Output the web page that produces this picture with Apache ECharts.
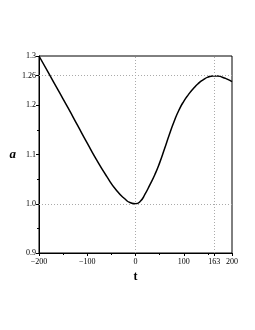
<!DOCTYPE html>
<html><head><meta charset="utf-8">
<script src="https://cdn.jsdelivr.net/npm/echarts@6/dist/echarts.min.js"></script>
<style>html,body{margin:0;padding:0;background:#fff}#c{width:255px;height:330px}</style>
</head><body><div id="c"></div>
<script>
const tValues = [-200,-180,-160,-140,-120,-100,-80,-60,-40,-20,-10,0,10,20,30,40,50,60,70,80,90,100,110,120,130,140,150,160,170,180,190,200];
const aValues = [1.300,1.265,1.230,1.195,1.159,1.123,1.088,1.056,1.028,1.008,1.002,1.000,1.005,1.020,1.039,1.059,1.083,1.111,1.140,1.167,1.190,1.208,1.222,1.234,1.244,1.2515,1.257,1.2595,1.2595,1.257,1.253,1.248];
const xTickLabels = [-200,-100,0,100,163,200];
const xMinorTicks = [-150,-50,50,150];
const yTickLabels = [0.9,1.0,1.1,1.2,1.26,1.3];
const yMinorTicks = [0.95,1.05,1.15];
const gridX = [0,163];
const gridY = [1.0,1.26];

const font = 'Liberation Serif';
const chart = echarts.init(document.getElementById('c'));
const data = tValues.map((t,i)=>[t,aValues[i]]);
const base = {min:-200,max:200,type:'value'};
chart.setOption({
  animation:false,
  grid:{left:39,right:23,top:56,bottom:77,show:true,borderColor:'#000',borderWidth:1,backgroundColor:'transparent'},
  xAxis:[
    Object.assign({},base,{position:'bottom',
      axisLine:{show:true,onZero:false,lineStyle:{color:'#000',width:1}},
      axisTick:{show:true,length:3,customValues:xTickLabels,lineStyle:{color:'#000'}},
      axisLabel:{customValues:xTickLabels,color:'#000',fontFamily:font,fontSize:8,margin:5,
        formatter:v=>String(v).replace('-','\u2212')},
      splitLine:{show:false},
      name:'t',nameLocation:'middle',nameGap:14,
      nameTextStyle:{fontFamily:font,fontWeight:'bold',fontSize:12,color:'#000'}}),
    Object.assign({},base,{position:'bottom',
      axisLine:{show:false,onZero:false},
      axisTick:{show:true,length:2,customValues:xMinorTicks,lineStyle:{color:'#000'}},
      axisLabel:{show:false},splitLine:{show:false}})
  ],
  yAxis:[
    {type:'value',min:0.9,max:1.3,position:'left',
      axisLine:{show:true,onZero:false,lineStyle:{color:'#000',width:1}},
      axisTick:{show:true,length:3,customValues:yTickLabels,lineStyle:{color:'#000'}},
      axisLabel:{customValues:yTickLabels,color:'#000',fontFamily:font,fontSize:8,margin:3,
        formatter:v=>{const r=Math.round(v*100)/100; return (Math.abs(r*10-Math.round(r*10))<1e-9)? r.toFixed(1): r.toFixed(2);}},
      splitLine:{show:false},
      name:'a',nameLocation:'middle',nameGap:19,nameRotate:0,
      nameTextStyle:{fontFamily:font,fontWeight:'bold',fontStyle:'italic',fontSize:13,color:'#000'}},
    {type:'value',min:0.9,max:1.3,position:'left',
      axisLine:{show:false,onZero:false},
      axisTick:{show:true,length:2,customValues:yMinorTicks,lineStyle:{color:'#000'}},
      axisLabel:{show:false},splitLine:{show:false}}
  ],
  series:[{
    type:'line',data:data,smooth:0.6,showSymbol:false,symbol:'none',
    lineStyle:{color:'#000',width:1.5},
    markLine:{silent:true,symbol:'none',label:{show:false},
      lineStyle:{color:'#aaa',type:[1,2],width:1},
      data:gridX.map(v=>({xAxis:v})).concat(gridY.map(v=>({yAxis:v})))},
    z:3
  }]
});
</script></body></html>
